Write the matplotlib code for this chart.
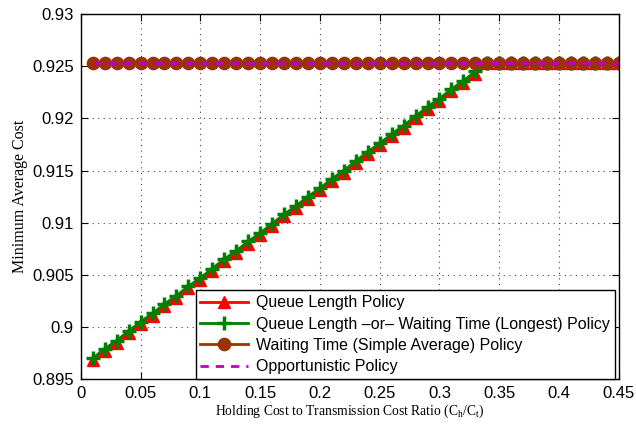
import matplotlib
matplotlib.use('Agg')
import matplotlib.pyplot as plt
import numpy as np

# cost ratio C_h / C_t
ratio = [0.01, 0.02, 0.03, 0.04, 0.05, 0.06, 0.07, 0.08, 0.09, 0.10,
         0.11, 0.12, 0.13, 0.14, 0.15, 0.16, 0.17, 0.18, 0.19, 0.20,
         0.21, 0.22, 0.23, 0.24, 0.25, 0.26, 0.27, 0.28, 0.29, 0.30,
         0.31, 0.32, 0.33, 0.34, 0.35, 0.36, 0.37, 0.38, 0.39, 0.40,
         0.41, 0.42, 0.43, 0.44, 0.45]

queue_len = [0.8968, 0.8977, 0.8985, 0.8994, 0.9003, 0.9011, 0.9020, 0.9028, 0.9037, 0.9045,
             0.9054, 0.9063, 0.9071, 0.9080, 0.9088, 0.9097, 0.9106, 0.9114, 0.9123, 0.9131,
             0.9140, 0.9148, 0.9157, 0.9166, 0.9174, 0.9183, 0.9191, 0.9200, 0.9209, 0.9217,
             0.9226, 0.9234, 0.9243, 0.9253, 0.9253, 0.9253, 0.9253, 0.9253, 0.9253, 0.9253,
             0.9253, 0.9253, 0.9253, 0.9253, 0.9253]

queue_or_wait = [0.8970, 0.8979, 0.8987, 0.8996, 0.9005, 0.9013, 0.9022, 0.9030, 0.9039, 0.9047,
                 0.9056, 0.9065, 0.9073, 0.9082, 0.9090, 0.9099, 0.9108, 0.9116, 0.9125, 0.9133,
                 0.9142, 0.9150, 0.9159, 0.9168, 0.9176, 0.9185, 0.9193, 0.9202, 0.9211, 0.9219,
                 0.9228, 0.9236, 0.9245, 0.9253, 0.9253, 0.9253, 0.9253, 0.9253, 0.9253, 0.9253,
                 0.9253, 0.9253, 0.9253, 0.9253, 0.9253]

wait_avg = [0.9253] * 45
opportunistic = [0.9253] * 45

xticks = [0, 0.05, 0.1, 0.15, 0.2, 0.25, 0.3, 0.35, 0.4, 0.45]
xtick_labels = ['0', '0.05', '0.1', '0.15', '0.2', '0.25', '0.3', '0.35', '0.4', '0.45']
yticks = [0.895, 0.9, 0.905, 0.91, 0.915, 0.92, 0.925, 0.93]
ytick_labels = ['0.895', '0.9', '0.905', '0.91', '0.915', '0.92', '0.925', '0.93']

plt.rcParams['font.family'] = ['Liberation Sans', 'DejaVu Sans']

fig = plt.figure(figsize=(6.36, 4.26), dpi=100)
ax = fig.add_axes([0.127, 0.110, 0.846, 0.857])

ax.plot(ratio, queue_len, color='#ff0000', lw=2, marker='^', ms=8.5,
        label='Queue Length Policy')
ax.plot(ratio, queue_or_wait, color='#008000', lw=2, marker='+', ms=10, mew=2.5,
        label='Queue Length \u2013or\u2013 Waiting Time (Longest) Policy')
ax.plot(ratio, wait_avg, color='#993300', lw=2, marker='o', ms=8.8,
        label='Waiting Time (Simple Average) Policy')
ax.plot(ratio, opportunistic, color='#bf00bf', lw=2, ls=(0, (3, 2.5)),
        label='Opportunistic Policy')

ax.set_xlim(0, 0.45)
ax.set_ylim(0.895, 0.93)
ax.set_xticks(xticks)
ax.set_xticklabels(xtick_labels, fontsize=12)
ax.set_yticks(yticks)
ax.set_yticklabels(ytick_labels, fontsize=12)
ax.tick_params(direction='in', length=5, top=True, right=True, pad=5)
ax.grid(True, ls=(0, (1, 4)), color='#444444', lw=0.8)
for sp_ in ax.spines.values():
    sp_.set_linewidth(1.0)

ax.set_xlabel(r'Holding Cost to Transmission Cost Ratio (C$_\mathregular{h}$/C$_\mathregular{t}$)',
              family='Liberation Serif', fontsize=9.8, labelpad=1)
ax.set_ylabel('Minimum Average Cost', family='Liberation Serif', fontsize=11.5, labelpad=3)

leg = ax.legend(loc='lower right', bbox_to_anchor=(0.993, 0.0), borderaxespad=0,
                fontsize=11.5, handlelength=3.0, handletextpad=0.5, fancybox=False,
                framealpha=1, edgecolor='black', labelspacing=0.4, borderpad=0.3)
leg.get_frame().set_linewidth(1.0)

fig.savefig('out.png', dpi=100)
